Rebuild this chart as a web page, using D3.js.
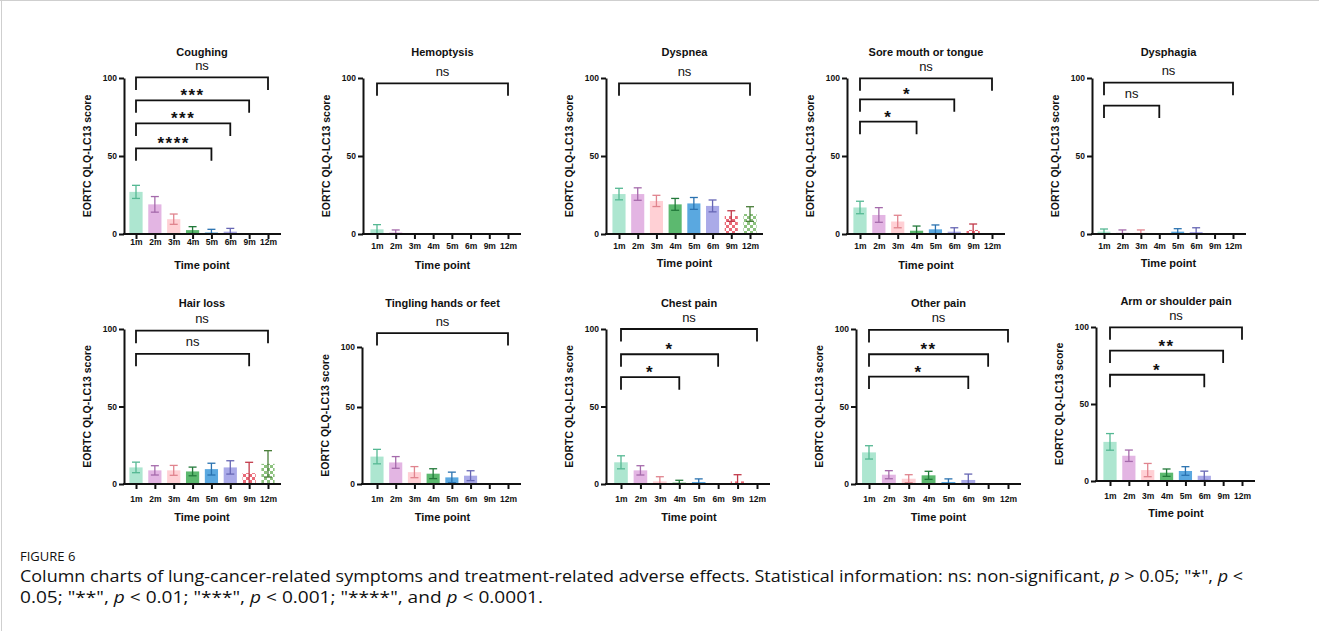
<!DOCTYPE html>
<html>
<head>
<meta charset="utf-8">
<script src="https://cdn.jsdelivr.net/npm/d3@7"></script>
<style>
body { margin: 0; background: #fff; }
svg text { font-family: "Liberation Sans", Arial, sans-serif; fill: #111; }
</style>
</head>
<body>
<svg id="fig" width="1319" height="631"></svg>
<script>
const timePoints = ['1m', '2m', '3m', '4m', '5m', '6m', '9m', '12m'];
const symptoms = ['Coughing', 'Hemoptysis', 'Dyspnea', 'Sore mouth or tongue', 'Dysphagia',
    'Hair loss', 'Tingling hands or feet', 'Chest pain', 'Other pain', 'Arm or shoulder pain'];

// mean score per time point, one row per symptom
const meanScores = [
    [27, 19, 9.5, 2.5, 1, 1.5, 0, 0],
    [3, 1, 0, 0, 0, 0, 0, 0],
    [25.6, 25.6, 21.2, 19, 19.6, 18, 11.5, 12.8],
    [17, 12.2, 8, 2.1, 3, 1.5, 2.6, 0],
    [1.5, 0.8, 0.8, 0, 1.5, 1.3, 0, 0],
    [10.7, 8.8, 8.8, 8.1, 9.6, 10.7, 7, 13],
    [17.8, 14, 7.7, 6.7, 4.3, 5.4, 0, 0],
    [14, 8.8, 1.7, 0.9, 1.3, 0, 1.7, 0],
    [20.4, 6, 3.4, 5.6, 1.3, 2.6, 0, 0],
    [25.4, 16.4, 7.1, 5.4, 6.5, 3.4, 0, 0]
];

// error bar half-lengths
const errorSizes = [
    [4.2, 5, 3.3, 2.2, 2, 2.1, 0, 0],
    [3, 1.6, 0, 0, 0, 0, 0, 0],
    [3.7, 4, 3.6, 3.8, 3.8, 3.8, 3.4, 4.7],
    [4, 4.7, 4, 3, 2.8, 2.5, 3.8, 0],
    [1.7, 1.8, 1.8, 0, 1.9, 2.7, 0, 0],
    [3.4, 3, 3.2, 2.8, 3.8, 4.3, 7, 8.5],
    [4.7, 3.8, 3.6, 3.2, 3.4, 3.2, 0, 0],
    [4.2, 3, 3, 1.5, 2, 0, 4.3, 0],
    [4.3, 2.6, 2.6, 2.6, 2, 3.8, 0, 0],
    [5.4, 3.7, 4.3, 2.4, 2.8, 3, 0, 0]
];

// [from, to, label, bracket level]
const comparisons = [
    [['1m', '12m', 'ns', 100.4], ['1m', '9m', '***', 85.7], ['1m', '6m', '***', 70.9], ['1m', '5m', '****', 54.9]],
    [['1m', '12m', 'ns', 96.6]],
    [['1m', '12m', 'ns', 96.6]],
    [['1m', '12m', 'ns', 99.8], ['1m', '6m', '*', 86.3], ['1m', '4m', '*', 72]],
    [['1m', '12m', 'ns', 97], ['1m', '4m', 'ns', 82.3]],
    [['1m', '12m', 'ns', 98.9], ['1m', '9m', 'ns', 84]],
    [['1m', '12m', 'ns', 98]],
    [['1m', '12m', 'ns', 100], ['1m', '6m', '*', 83.7], ['1m', '4m', '*', 68.9]],
    [['1m', '12m', 'ns', 99.4], ['1m', '9m', '**', 83.7], ['1m', '6m', '*', 69.3]],
    [['1m', '12m', 'ns', 99.8], ['1m', '9m', '**', 84.7], ['1m', '6m', '*', 69]]
];

const yTicks = [0, 50, 100];

// panel placement in pixels
const layout = [
    {ax: 124, x1: 136, x2: 268, y0: 234, y100: 78, title: 52, tickLab: 242, xTitle: 265},
    {ax: 363, x1: 377, x2: 508, y0: 234, y100: 78, title: 52, tickLab: 246, xTitle: 265},
    {ax: 606, x1: 619, x2: 750, y0: 234, y100: 78, title: 52, tickLab: 246, xTitle: 263},
    {ax: 847, x1: 860, x2: 992, y0: 234, y100: 78, title: 52, tickLab: 246, xTitle: 265},
    {ax: 1092, x1: 1104, x2: 1233, y0: 234, y100: 78, title: 52, tickLab: 246, xTitle: 263},
    {ax: 124, x1: 136, x2: 268, y0: 484, y100: 329, title: 303, tickLab: 499, xTitle: 517},
    {ax: 362, x1: 377, x2: 508, y0: 484, y100: 330, title: 303, tickLab: 499, xTitle: 517, axisTop: 347},
    {ax: 606, x1: 621, x2: 757, y0: 484, y100: 329, title: 303, tickLab: 499, xTitle: 517},
    {ax: 856, x1: 869, x2: 1008, y0: 484, y100: 329, title: 303, tickLab: 499, xTitle: 517},
    {ax: 1096, x1: 1110, x2: 1242, y0: 481, y100: 327, title: 301, tickLab: 496, xTitle: 513}
];

const fills = ['#ade6d0', '#e3b5e3', '#ffd0d5', '#5cb96f', '#5aa8e0', '#aaaae8', 'url(#check9)', 'url(#check12)'];
const errColors = ['#55b893', '#a56aab', '#e0848e', '#22793a', '#2a72b0', '#6666b4', '#c23a4a', '#4a7e3a'];

const svg = d3.select('#fig');

// checkered fills for 9m and 12m
const defs = svg.append('defs');
[['check9', '#ea6a78'], ['check12', '#8cc27e']].forEach(([id, col]) => {
    const p = defs.append('pattern')
        .attr('id', id)
        .attr('patternUnits', 'userSpaceOnUse')
        .attr('width', 6).attr('height', 6);
    p.append('rect').attr('width', 6).attr('height', 6).attr('fill', col);
    p.append('rect').attr('width', 3).attr('height', 3).attr('fill', '#fff');
    p.append('rect').attr('x', 3).attr('y', 3).attr('width', 3).attr('height', 3).attr('fill', '#fff');
});

// light frame
svg.append('line').attr('x1', 0).attr('x2', 1319).attr('y1', 0.5).attr('y2', 0.5)
    .attr('stroke', '#cfcfcf');
svg.append('line').attr('x1', 1.5).attr('x2', 1.5).attr('y1', 0).attr('y2', 631)
    .attr('stroke', '#cfcfcf');

function drawPanel(k) {
    const L = layout[k];
    const g = svg.append('g').attr('class', 'panel');

    const x = d3.scalePoint().domain(timePoints).range([L.x1, L.x2]);
    const y = d3.scaleLinear().domain([0, 100]).range([L.y0, L.y100]);
    const yAxisScale = L.axisTop
        ? d3.scaleLinear().domain([0, 50, 100]).range([L.y0, y(50), L.axisTop])
        : y;
    const barW = x.step() * 0.7;

    const rows = timePoints.map((t, i) => ({
        t: t, i: i, m: meanScores[k][i], e: errorSizes[k][i]
    }));

    // bars
    g.selectAll('rect.bar').data(rows.filter(d => d.m > 0))
        .join('rect')
        .attr('class', 'bar')
        .attr('x', d => x(d.t) - barW / 2)
        .attr('y', d => y(d.m))
        .attr('width', barW)
        .attr('height', d => L.y0 - y(d.m))
        .attr('fill', d => fills[d.i]);

    // error bars
    const eb = g.selectAll('g.err').data(rows.filter(d => d.e > 0))
        .join('g')
        .attr('class', 'err')
        .attr('stroke', d => errColors[d.i])
        .attr('stroke-width', 1.3);
    eb.append('line')
        .attr('x1', d => x(d.t)).attr('x2', d => x(d.t))
        .attr('y1', d => y(Math.max(0, d.m - d.e)))
        .attr('y2', d => y(d.m + d.e));
    eb.append('line')
        .attr('x1', d => x(d.t) - 4).attr('x2', d => x(d.t) + 4)
        .attr('y1', d => y(d.m + d.e)).attr('y2', d => y(d.m + d.e));
    eb.append('line')
        .attr('x1', d => x(d.t) - 4).attr('x2', d => x(d.t) + 4)
        .attr('y1', d => y(Math.max(0, d.m - d.e))).attr('y2', d => y(Math.max(0, d.m - d.e)));

    // y axis
    const ya = g.append('g')
        .attr('transform', 'translate(' + L.ax + ',0)')
        .call(d3.axisLeft(yAxisScale).tickValues(yTicks).tickSize(5).tickSizeOuter(0).tickPadding(2));
    ya.select('.domain').attr('stroke', '#111').attr('stroke-width', 2);
    ya.selectAll('.tick line').attr('stroke', '#111').attr('stroke-width', 2);
    ya.selectAll('.tick text')
        .style('font-size', '8.5px').style('font-weight', 'bold').attr('fill', '#222');

    // x axis
    const xa = g.append('g')
        .attr('transform', 'translate(0,' + L.y0 + ')')
        .call(d3.axisBottom(x).tickSize(5));
    xa.select('.domain').remove();
    xa.append('line')
        .attr('x1', L.ax - 1).attr('x2', L.x2 + 13)
        .attr('stroke', '#111').attr('stroke-width', 2);
    xa.selectAll('.tick line').attr('stroke', '#111').attr('stroke-width', 2);
    xa.selectAll('.tick text')
        .attr('y', L.tickLab - L.y0).attr('dy', '0.35em')
        .style('font-size', '8.5px').style('font-weight', 'bold').attr('fill', '#222');

    const midX = (L.x1 + L.x2) / 2;

    // titles
    g.append('text')
        .attr('x', midX).attr('y', L.title).attr('dy', '0.35em')
        .attr('text-anchor', 'middle')
        .style('font-size', '11px').style('font-weight', 'bold')
        .text(symptoms[k]);
    g.append('text')
        .attr('x', midX).attr('y', L.xTitle).attr('dy', '0.35em')
        .attr('text-anchor', 'middle')
        .style('font-size', '11px').style('font-weight', 'bold')
        .text('Time point');
    g.append('text')
        .attr('transform', 'translate(' + (L.ax - 37) + ',' + ((L.y0 + (L.axisTop || L.y100)) / 2) + ') rotate(-90)')
        .attr('dy', '0.35em')
        .attr('text-anchor', 'middle')
        .style('font-size', '10.5px').style('font-weight', 'bold')
        .text('EORTC QLQ-LC13 score');

    // significance brackets
    const br = g.selectAll('g.bracket').data(comparisons[k])
        .join('g')
        .attr('class', 'bracket');
    br.append('path')
        .attr('fill', 'none')
        .attr('stroke', '#111')
        .attr('stroke-width', 1.8)
        .attr('d', d => {
            const yy = y(d[3]);
            return 'M' + x(d[0]) + ',' + (yy + 12.5) + 'V' + yy + 'H' + x(d[1]) + 'V' + (yy + 12.5);
        });
    br.append('text')
        .attr('x', d => (x(d[0]) + x(d[1])) / 2)
        .attr('y', d => d[2] === 'ns' ? y(d[3]) - 7.5 : y(d[3]) + 1)
        .attr('text-anchor', 'middle')
        .style('font-size', d => d[2] === 'ns' ? '13px' : '17px')
        .style('font-weight', d => d[2] === 'ns' ? 'normal' : 'bold')
        .style('letter-spacing', d => d[2] === 'ns' ? '0px' : '1.5px')
        .attr('fill', '#222')
        .text(d => d[2]);
}

symptoms.forEach((s, k) => drawPanel(k));

// caption
const capFont = '"Liberation Sans Narrow", "Open Sans", sans-serif';
const cap = svg.append('g');
cap.append('text')
    .attr('x', 20).attr('y', 561)
    .style('font-family', capFont)
    .style('font-size', '13px')
    .attr('fill', '#5a5a5a')
    .text('FIGURE 6');

const line1 = cap.append('text')
    .attr('x', 20).attr('y', 582)
    .attr('textLength', 1223).attr('lengthAdjust', 'spacingAndGlyphs')
    .style('font-family', capFont)
    .style('font-size', '15.5px')
    .attr('fill', '#5a5a5a');
[['Column charts of lung-cancer-related symptoms and treatment-related adverse effects. Statistical information: ns: non-significant, ', false],
 ['p', true], [' > 0.05; "*", ', false], ['p', true], [' <', false]]
    .forEach(([s, it]) => line1.append('tspan').style('font-style', it ? 'italic' : 'normal').text(s));

const line2 = cap.append('text')
    .attr('x', 20).attr('y', 603)
    .attr('textLength', 523).attr('lengthAdjust', 'spacingAndGlyphs')
    .style('font-family', capFont)
    .style('font-size', '15.5px')
    .attr('fill', '#5a5a5a');
[['0.05; "**", ', false], ['p', true], [' < 0.01; "***", ', false], ['p', true],
 [' < 0.001; "****", and ', false], ['p', true], [' < 0.0001.', false]]
    .forEach(([s, it]) => line2.append('tspan').style('font-style', it ? 'italic' : 'normal').text(s));
</script>
</body>
</html>
